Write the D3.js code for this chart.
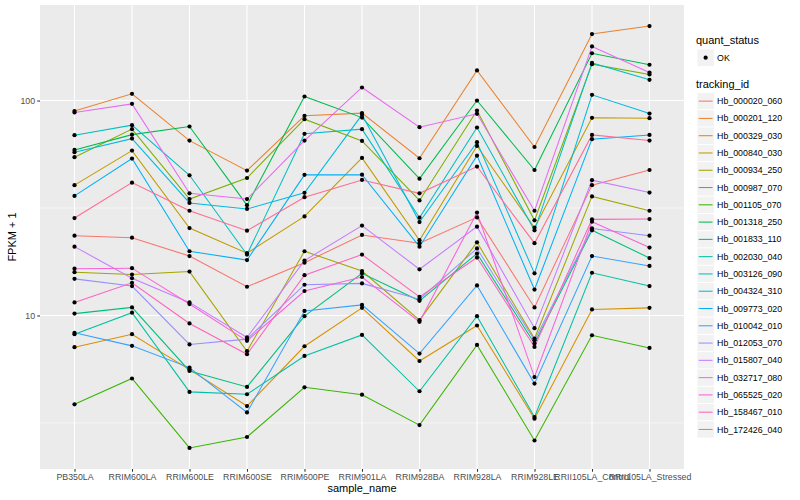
<!DOCTYPE html>
<html>
<head>
<meta charset="utf-8">
<script src="https://cdn.jsdelivr.net/npm/d3@7"></script>
<style>
  html, body { margin: 0; padding: 0; background: #fff; }
  svg { display: block; font-family: "Liberation Sans", Arial, Helvetica, sans-serif; }
</style>
</head>
<body>
<svg id="chart" width="800" height="500"></svg>
<script>
// ---- data ----
const sampleNames = ["PB350LA","RRIM600LA","RRIM600LE","RRIM600SE","RRIM600PE","RRIM901LA","RRIM928BA","RRIM928LA","RRIM928LE","RRII105LA_Control","RRII105LA_Stressed"];
const trackingIds = ["Hb_000020_060","Hb_000201_120","Hb_000329_030","Hb_000840_030","Hb_000934_250","Hb_000987_070","Hb_001105_070","Hb_001318_250","Hb_001833_110","Hb_002030_040","Hb_003126_090","Hb_004324_310","Hb_009773_020","Hb_010042_010","Hb_012053_070","Hb_015807_040","Hb_032717_080","Hb_065525_020","Hb_158467_010","Hb_172426_040"];

// FPKM + 1 per sample (same order as sampleNames)
const hb_000020_060 = [23.5, 23.0, 18.9, 13.6, 17.6, 23.7, 21.7, 28.6, 10.9, 40.4, 47.5];
const hb_000201_120 = [89.3, 107.5, 65.1, 47.2, 84.9, 87.4, 53.9, 138, 60.8, 203.9, 222];
const hb_000329_030 = [7.12, 8.18, 5.60, 3.79, 7.19, 10.85, 6.14, 8.98, 3.31, 10.67, 10.85];
const hb_000840_030 = [40.4, 58.5, 25.5, 19.5, 28.9, 54.1, 22.4, 61.5, 25.6, 83.1, 82.8];
const hb_000934_250 = [15.9, 15.5, 16.0, 6.82, 19.9, 16.1, 9.51, 21.9, 7.81, 35.8, 30.7];
const hb_000987_070 = [54.5, 73.6, 34.8, 43.6, 81.9, 64.9, 34.3, 89.8, 27.7, 147.7, 132.2];
const hb_001105_070 = [3.86, 5.09, 2.42, 2.72, 4.63, 4.28, 3.09, 7.29, 2.62, 8.09, 7.06];
const hb_001318_250 = [58.9, 69.4, 75.7, 32.6, 104.4, 83.3, 43.3, 100, 47.5, 166, 146.7];
const hb_001833_110 = [10.2, 10.9, 5.52, 4.65, 9.93, 15.7, 11.7, 19.4, 7.41, 24.9, 18.5];
const hb_002030_040 = [8.18, 10.3, 4.41, 4.30, 6.48, 8.12, 4.44, 9.93, 3.37, 15.8, 13.7];
const hb_003126_090 = [69.0, 76.8, 44.9, 19.2, 70.0, 73.6, 28.5, 74.9, 24.9, 149.6, 124.9];
const hb_004324_310 = [57.5, 66.5, 33.4, 31.3, 37.2, 85.8, 27.2, 64.0, 15.7, 106.3, 87.0];
const hb_009773_020 = [36.0, 53.7, 19.9, 18.1, 45.1, 45.2, 20.9, 55.4, 13.2, 66.1, 69.2];
const hb_010042_010 = [8.30, 7.22, 5.72, 3.54, 10.5, 11.2, 6.65, 13.8, 4.82, 18.9, 17.0];
const hb_012053_070 = [14.8, 13.7, 7.33, 7.76, 13.9, 14.1, 11.9, 20.5, 7.67, 25.4, 23.5];
const hb_015807_040 = [20.9, 14.9, 11.5, 7.9, 18.0, 26.2, 16.4, 25.9, 8.73, 42.6, 37.3];
const hb_032717_080 = [88.0, 96.5, 37.0, 34.8, 65.1, 115, 75.2, 86.7, 30.7, 178.5, 135];
const hb_065525_020 = [16.5, 16.6, 11.3, 7.62, 13.0, 15.1, 9.34, 30.1, 5.17, 27.3, 20.7];
const hb_158467_010 = [11.5, 14.2, 9.18, 6.6, 15.4, 19.2, 12.2, 18.6, 7.14, 28.0, 28.1];
const hb_172426_040 = [28.4, 41.5, 30.7, 24.8, 35.5, 42.7, 37.0, 49.3, 21.7, 69.2, 65.1];

const quantStatus = ["OK"];
const yMajorTicks = [1, 10, 100, 1000];
const yMinorTicks = [Math.pow(10, 0.5), Math.pow(10, 1.5), Math.pow(10, 2.5)];

// ---- build table ----
const seriesValues = [hb_000020_060, hb_000201_120, hb_000329_030, hb_000840_030, hb_000934_250, hb_000987_070, hb_001105_070, hb_001318_250, hb_001833_110, hb_002030_040, hb_003126_090, hb_004324_310, hb_009773_020, hb_010042_010, hb_012053_070, hb_015807_040, hb_032717_080, hb_065525_020, hb_158467_010, hb_172426_040];
const series = trackingIds.map((id, i) => ({
  id,
  values: sampleNames.map((s, j) => ({ sample: s, value: seriesValues[i][j], status: "OK" }))
}));

// ggplot2 hue palette for 20 levels
const palette = ["#F8766D","#EA8331","#D89000","#C09B00","#A3A500","#7CAE00","#39B600","#00BB4E","#00BF7D","#00C1A3","#00BFC4","#00BAE0","#00B0F6","#35A2FF","#9590FF","#C77CFF","#E76BF3","#FA62DB","#FF62BC","#FF6C91"];
const color = d3.scaleOrdinal().domain(trackingIds).range(palette);

// ---- layout ----
const svg = d3.select("#chart");
const panel = { left: 40, right: 684, top: 5, bottom: 469 };

const x = d3.scalePoint().domain(sampleNames).range([panel.left, panel.right]).padding(0.6);

const allVals = seriesValues.flat();
const lmin = Math.log10(d3.min(allVals)), lmax = Math.log10(d3.max(allVals));
const ex = (lmax - lmin) * 0.05;
const y = d3.scaleLog().domain([Math.pow(10, lmin - ex), Math.pow(10, lmax + ex)]).range([panel.bottom, panel.top]);
const [dlo, dhi] = y.domain();

// panel background
svg.append("rect")
  .attr("x", panel.left).attr("y", panel.top)
  .attr("width", panel.right - panel.left).attr("height", panel.bottom - panel.top)
  .attr("fill", "#EBEBEB");

// grid
const grid = svg.append("g");
grid.selectAll("line.minor").data(yMinorTicks.filter(v => v >= dlo && v <= dhi)).join("line")
  .attr("x1", panel.left).attr("x2", panel.right)
  .attr("y1", d => y(d)).attr("y2", d => y(d))
  .attr("stroke", "#fff").attr("stroke-width", 0.55);
grid.selectAll("line.majory").data(yMajorTicks.filter(v => v >= dlo && v <= dhi)).join("line")
  .attr("x1", panel.left).attr("x2", panel.right)
  .attr("y1", d => y(d)).attr("y2", d => y(d))
  .attr("stroke", "#fff").attr("stroke-width", 1.1);
grid.selectAll("line.majorx").data(sampleNames).join("line")
  .attr("x1", d => x(d)).attr("x2", d => x(d))
  .attr("y1", panel.top).attr("y2", panel.bottom)
  .attr("stroke", "#fff").attr("stroke-width", 1.1);

// lines
const line = d3.line().x(d => x(d.sample)).y(d => y(d.value));
svg.append("g").selectAll("path").data(series).join("path")
  .attr("d", d => line(d.values))
  .attr("fill", "none")
  .attr("stroke", d => color(d.id))
  .attr("stroke-width", 1.05);

// points
svg.append("g").selectAll("circle").data(series.flatMap(s => s.values)).join("circle")
  .attr("cx", d => x(d.sample)).attr("cy", d => y(d.value))
  .attr("r", 2.1).attr("fill", "#000");

// axes
const yAxis = d3.axisLeft(y).tickValues(yMajorTicks.filter(v => v >= dlo && v <= dhi))
  .tickFormat(d3.format("d")).tickSize(2.74).tickPadding(2.2);
const gy = svg.append("g").attr("transform", `translate(${panel.left},0)`).call(yAxis);
gy.select(".domain").remove();
gy.selectAll(".tick line").attr("stroke", "#333333").attr("stroke-width", 1.07);
gy.selectAll(".tick text").attr("fill", "#4D4D4D").style("font-size", "8.8px");

const xAxis = d3.axisBottom(x).tickSize(2.74).tickPadding(2.2);
const gx = svg.append("g").attr("transform", `translate(0,${panel.bottom})`).call(xAxis);
gx.select(".domain").remove();
gx.selectAll(".tick line").attr("stroke", "#333333").attr("stroke-width", 1.07);
gx.selectAll(".tick text").attr("fill", "#4D4D4D").style("font-size", "8.8px");

// axis titles
svg.append("text").attr("x", (panel.left + panel.right) / 2).attr("y", 492)
  .attr("text-anchor", "middle").style("font-size", "11px").attr("fill", "#000")
  .text("sample_name");
svg.append("text")
  .attr("transform", `translate(16,${(panel.top + panel.bottom) / 2}) rotate(-90)`)
  .attr("text-anchor", "middle").style("font-size", "11px").attr("fill", "#000")
  .text("FPKM + 1");

// legends
const lg = svg.append("g");
const keyX = 697, keyW = 17.28, keyH = 17.28;
lg.append("text").attr("x", 696).attr("y", 44).style("font-size", "11px").text("quant_status");
const qk = lg.selectAll("g.q").data(quantStatus).join("g")
  .attr("transform", (d, i) => `translate(${keyX},${49 + i * keyH})`);
qk.append("rect").attr("width", keyW).attr("height", keyH).attr("fill", "#F2F2F2").attr("stroke", "#fff").attr("stroke-width", 0.8);
qk.append("circle").attr("cx", keyW / 2).attr("cy", keyH / 2).attr("r", 2.1).attr("fill", "#000");
qk.append("text").attr("x", keyW + 2.8).attr("y", keyH / 2).attr("dy", "0.35em").style("font-size", "8.8px").attr("fill", "#000").text(d => d);

lg.append("text").attr("x", 696).attr("y", 88).style("font-size", "11px").text("tracking_id");
const tk = lg.selectAll("g.t").data(trackingIds).join("g")
  .attr("transform", (d, i) => `translate(${keyX},${92.5 + i * keyH})`);
tk.append("rect").attr("width", keyW).attr("height", keyH).attr("fill", "#F2F2F2").attr("stroke", "#fff").attr("stroke-width", 0.8);
tk.append("line").attr("x1", 1.7).attr("x2", keyW - 1.7).attr("y1", keyH / 2).attr("y2", keyH / 2)
  .attr("stroke", d => color(d)).attr("stroke-width", 1.05);
tk.append("text").attr("x", keyW + 2.8).attr("y", keyH / 2).attr("dy", "0.35em").style("font-size", "8.8px").attr("fill", "#000").text(d => d);
</script>
</body>
</html>
